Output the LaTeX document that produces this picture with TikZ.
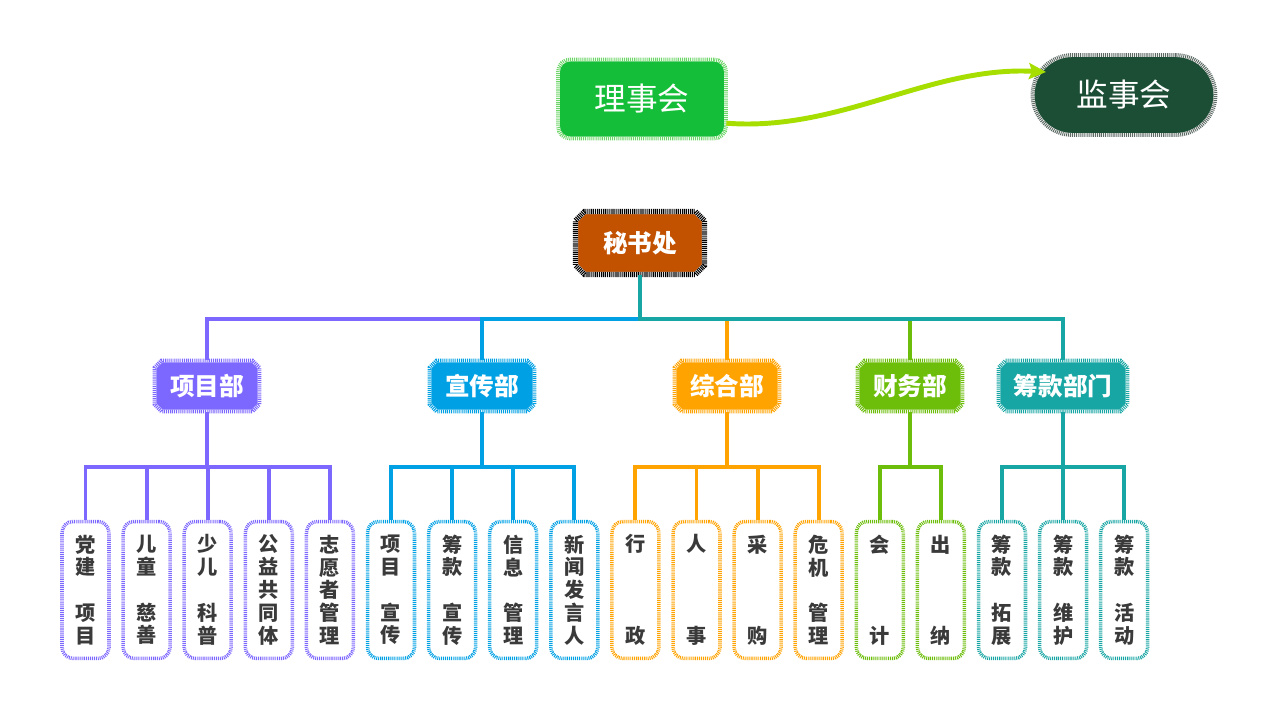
\documentclass[tikz,border=0pt]{standalone}
\usepackage{fontspec}
\newfontfamily\cjk{Noto Sans CJK SC}
\usetikzlibrary{shapes.misc,arrows.meta}
\definecolor{xmcol}{HTML}{7D68FF}
\definecolor{xccol}{HTML}{00A0E4}
\definecolor{zhcol}{HTML}{FFA300}
\definecolor{cwcol}{HTML}{6CBE0B}
\definecolor{ckcol}{HTML}{18A6A4}
\definecolor{msccol}{HTML}{C25100}
\definecolor{lshcol}{HTML}{14BE38}
\definecolor{lshedge}{HTML}{6FD66A}
\definecolor{jshcol}{HTML}{1B4E35}
\definecolor{jshedge}{HTML}{5D6B64}
\definecolor{arrcol}{HTML}{A6DE00}
\definecolor{leaftext}{HTML}{3A3A3A}
\newcommand{\blankch}{\phantom{口}}
\tikzset{
  hatch/.style={postaction={draw=white,line width=2.2pt},
    postaction={draw=#1,line width=2.2pt,dash pattern=on 0.55pt off 0.55pt}},
  dept/.style={chamfered rectangle,chamfered rectangle xsep=0.07cm,
    chamfered rectangle ysep=0.07cm,fill=#1,hatch=#1,text=white,inner sep=0pt,
    minimum width=2.1cm,minimum height=1.02cm,
    font=\cjk\bfseries\fontsize{14}{16}\selectfont},
  leaf/.style={draw=#1,line width=2pt,dash pattern=on 0.55pt off 0.55pt,
    fill=white,rounded corners=0.22cm,minimum width=0.94cm,minimum height=2.74cm,
    align=center,text=leaftext,inner sep=0pt,
    font=\cjk\bfseries\fontsize{11.5}{13}\selectfont},
  conn/.style={draw=#1,line width=2.2pt},
}
\begin{document}
\begin{tikzpicture}[x=0.02cm,y=-0.02cm]
    \useasboundingbox[fill=white] (0,0) rectangle (1269,719);
    % top row
    \node[fill=lshcol,hatch=lshedge,rounded corners=0.24cm,minimum width=3.36cm,
      minimum height=1.58cm,text=white,font=\cjk\fontsize{18}{20}\selectfont]
      (lsh) at (642,99) {理事会};
    \node[fill=jshcol,hatch=jshedge,rounded corners=0.8cm,minimum width=3.66cm,
      minimum height=1.6cm,text=white,font=\cjk\fontsize{18}{20}\selectfont]
      (jsh) at (1124,95) {监事会};
    \coordinate (jshtip) at (1046,72);
    \draw[arrcol,line width=2.8pt,-{Stealth[length=0.34cm,width=0.32cm,inset=0.06cm]}]
      (lsh.-16) .. controls (840,132) and (930,66) .. (jshtip);
    % secretariat
    \node[chamfered rectangle,chamfered rectangle xsep=0.09cm,
      chamfered rectangle ysep=0.09cm,fill=msccol,inner sep=0pt,
      postaction={draw=white,line width=3pt},
      postaction={draw=black,line width=3pt,dash pattern=on 0.6pt off 0.5pt},
      minimum width=2.58cm,minimum height=1.26cm,text=white,
      font=\cjk\bfseries\fontsize{14}{16}\selectfont] (msc) at (640,243) {秘书处};
    % departments
    \node[dept=xmcol] (xm) at (207,386) {项目部};
    \node[dept=xccol] (xc) at (482,386) {宣传部};
    \node[dept=zhcol] (zh) at (727,386) {综合部};
    \node[dept=cwcol] (cw) at (910,386) {财务部};
    \node[dept=ckcol,minimum width=2.58cm] (ck) at (1063,386) {筹款部门};
    \foreach \d/\c in {xm/xmcol,xc/xccol,zh/zhcol,cw/cwcol,ck/ckcol}
      \draw[conn=\c] (msc.south) -- (msc.south |- 0,319) -| (\d.north);
    % leaves
    \foreach \n/\c/\t [count=\k] in {
        xm1/xmcol/{党\\建\\\blankch\\项\\目},
        xm2/xmcol/{儿\\童\\\blankch\\慈\\善},
        xm3/xmcol/{少\\儿\\\blankch\\科\\普},
        xm4/xmcol/{公\\益\\共\\同\\体},
        xm5/xmcol/{志\\愿\\者\\管\\理},
        xc1/xccol/{项\\目\\\blankch\\宣\\传},
        xc2/xccol/{筹\\款\\\blankch\\宣\\传},
        xc3/xccol/{信\\息\\\blankch\\管\\理},
        xc4/xccol/{新\\闻\\发\\言\\人},
        zh1/zhcol/{行\\\blankch\\\blankch\\\blankch\\政},
        zh2/zhcol/{人\\\blankch\\\blankch\\\blankch\\事},
        zh3/zhcol/{采\\\blankch\\\blankch\\\blankch\\购},
        zh4/zhcol/{危\\机\\\blankch\\管\\理},
        cw1/cwcol/{会\\\blankch\\\blankch\\\blankch\\计},
        cw2/cwcol/{出\\\blankch\\\blankch\\\blankch\\纳},
        ck1/ckcol/{筹\\款\\\blankch\\拓\\展},
        ck2/ckcol/{筹\\款\\\blankch\\维\\护},
        ck3/ckcol/{筹\\款\\\blankch\\活\\动}}
      \node[leaf=\c] (\n) at ({85.5+61.1*(\k-1)},590) {\t};
    \foreach \d/\c/\ls in {xm/xmcol/{xm1,xm2,xm3,xm4,xm5},xc/xccol/{xc1,xc2,xc3,xc4},
        zh/zhcol/{zh1,zh2,zh3,zh4},cw/cwcol/{cw1,cw2},ck/ckcol/{ck1,ck2,ck3}}
      \foreach \l in \ls
        \draw[conn=\c] (\d.south) -- (\d.south |- 0,467) -| (\l.north);
\end{tikzpicture}
\end{document}
